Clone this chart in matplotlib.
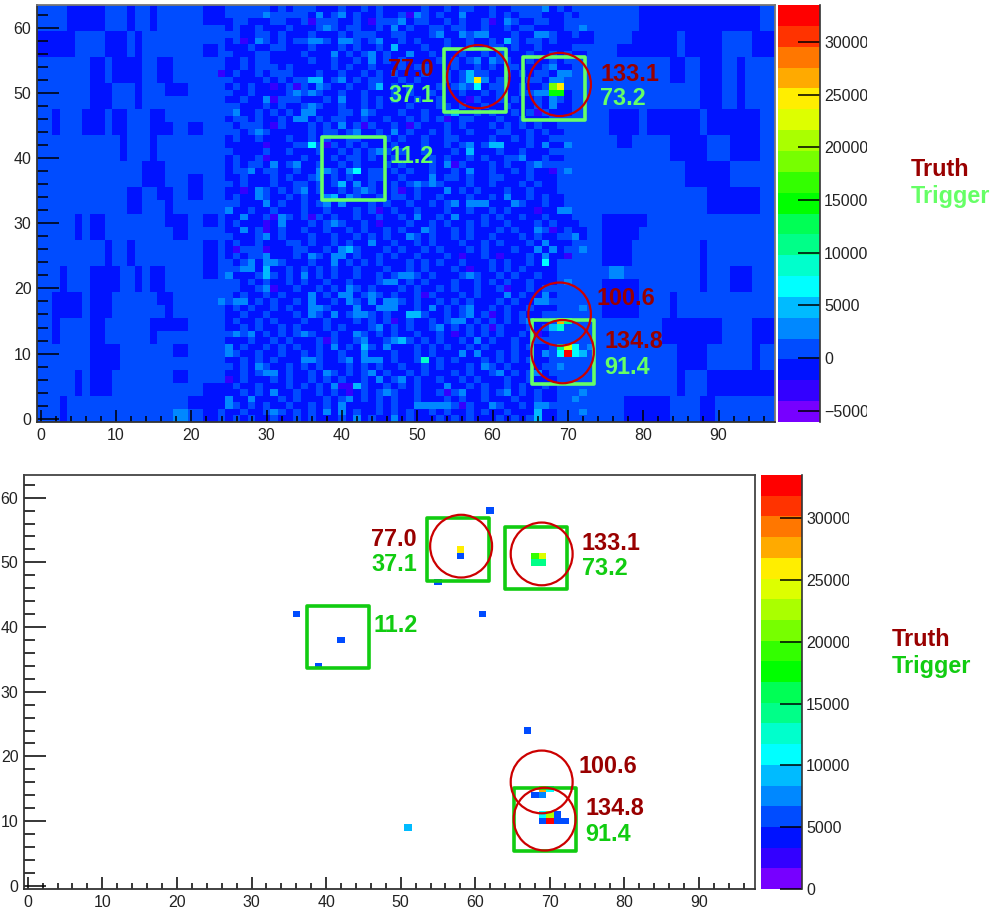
import numpy as np
import matplotlib
matplotlib.use("Agg")
import matplotlib.pyplot as plt
from matplotlib.colors import ListedColormap, BoundaryNorm
from matplotlib.patches import Ellipse, Rectangle

plt.rcParams['font.family'] = ['Liberation Sans', 'DejaVu Sans']

# histogram cells, top row of the picture first, '#' is slightly below zero, '.' slightly above
left_rows = [
    "....#####...#..#......###", "....#####...#..#......###", "....#####...#..#......###", "....#####...#..#.........",
    "#####....###.#...........", "#####....###.#...........", "#####....###.#........##.", "#####....###.#........##.",
    ".......##.####..##.......", ".......##.####..##.......", ".......##.####..##.......", ".......##.####..##.......",
    ".......###...#...###.....", ".......###...#...###.....", ".......###...#...........", ".......###...#...........",
    "..#...###.##...##........", "..#...###.##...##........", "..#...###.##...###..##...", "..#...###.##...###..##...",
    "...........#...#.........", "...........#...#.........", "...........#...#.........", "...........#...#.........",
    "..............###........", "..............###........", "..............###...##...", "..............###...##...",
    "............##..##..##...", "............##..##..##...", "............##...#.......", "............##...#.......",
    ".....#.##........###..##.", ".....#.##........###..##.", ".....#.##.........##.....", ".....#.##.........##.....",
    ".........#..#.........##.", ".........#..#.........##.", ".........#..#.........##.", ".........#..#.........##.",
    "...#...####..#.##.....##.", "...#...####..#.##.....##.", "...#...####..#.##........", "...#...####..#.##........",
    "..####.###......##.......", "..####.###......##.......", "..####.###.......#.......", "..####.###.......#.......",
    "..#....##......#####.....", "..#....##......#####.....", "..#....##......#.........", "..#....##......#.........",
    ".......####.......##.....", ".......####.......##.....", ".......####..............", ".......####..............",
    ".....#.###........##.....", ".....#.###........##.....", ".....#.###............###", ".....#.###............###",
    "...#................#####", "...#................#####", "...#..................##.", "...#..................##.",
]
mid_rows = [
    "......#.#...###.##.#.#####.##.#..##.##....##.#....",
    "...........###.##.##.##.#..#.##.###.#.#...###.#...",
    "#..###..##.....##.##...##..##.#.##..#..##..##.....",
    "#.##.###.###.#.#..##.###.##..#..##.##.#..####.....",
    "..##..#.###.###.#...##..###.####...###.##...##.##.",
    "#..#..#.#..##.#.#.#..##.#.###.##.##.##.#..#.#####.",
    "###.##..###.###.#.##.#.###.##.##.##..#.##.####....",
    ".###..####.###.#.#..#.##.##.###.##.#.###.##.#.##..",
    "##.#..#####.##.##.###.#.####.#.#..##..##.##.#.....",
    "##.#...#.#####.#.##.###.#..###.##.#.#..###.###....",
    "#.##.#...###.##.##.#.#.###.##.#.#..##.#.#..##.....",
    ".####.#.#..###.##.#..##.#.###.#...##.###..###.....",
    "#.#.##.#.#.##.##.##.##.#.###.#.#.##..##.##.##.....",
    ".##.####.#.#.##.##.###.#.##.###.##.#.##..#.###....",
    "##.##.#...###.####.#.#.##.##.###..##.#.##.##.#....",
    "..###.#.##.#.##.##.#.###.###..#.##.##.###.####....",
    "..##.#.#.##.###..##.###.##.##.###.#.##.#.#.###....",
    "#..#.##.#.##.#..##.##.##.#.#.##..###.##.###.......",
    ".#...##.###.#.###.#.##.##.###.#.###.#.#.#.##......",
    "..#.#.#####.#..#.###.###.##.#.##.###..##.#.##.....",
    "#.##.###.##.#.##..###.#.##.##..####.##.#.##.......",
    "#####.###..#.#.#.#.###.###.##.#.##.#.###.#.##.....",
    ".####.##.###.##.#.#.#.#.##.###.#.###.##.###.......",
    "#.##.#####.###.#..#.##.####.#.##.#.##..###.##.....",
    "#.#..###.###.##.#.###.#.###.#.#.###.#.##.#........",
    "#..##..##.####.#.##..#.#.##.##.#.##.##.#.##.......",
    "##.###.#.##.##.#.##..##.###.#..#.##..###.###......",
    ".#.###.##..#.#.##.#.##.#.#.#.###.##.###.#.##......",
    "##.#..#.#.##.##.#.#.##.##.###.#.#.###.##.###......",
    "#.###.##.#.###.##.##.#..#.##.###.##.#.##.#.##.....",
    "..#####.##.#.##.###.#.##.##.#.##.#.####.##.##.....",
    ".##.##.###.##.###.#.##.##.###.##.##.#.###.##......",
    "##.##.##.#.#.#.##.##.##.#.##.#.###.#.##.##.###....",
    "#.###.#.###.#.#.##.#.###.##.#.##.#.##.###.#.###...",
    "##.#.##.##.##.##.#.##.#.###.##.#.###.#.###.##.##..",
    ".###..#.###.##.##.#.#.###.#.##.#.##.###.#.##..##..",
    "#.##.###..#.##.#.##.##.##.#.###.##.#.###.#.###....",
    "##...####..##.#.#.###.#.##.#.###.#.###.##.###.....",
    "#.#...###.##.#.##.##.#.##.###.#.##.#.###.####.....",
    ".#.##.#.###.##.#.#.#.###.#.#.##.###.#.##.###......",
    "...##.##.#.#.#.##.###.##.#.###.#.##.#.#.####......",
    "####...#.###.#.##.##.#.##.#.###.#.##.#.##.##......",
    "..#.#.##.#.##.##.###..##.#.###.##.#.#.##.###......",
    "..##.#.##.##.#.##.#.###.#.##.#.##.##.###.#........",
    ".#.##.#.###.#.##.#.#.#.##.#.###.#.###.#.####......",
    ".###.#.##.#.##.##.#.###.#.##.#.#.###.#.####.......",
    "#.#.##.#.##.#.###.##.#.##.###.#.###.#.##.###......",
    "##.##.###.##.#.#.##.#.##.#.##.#.##.##.#.##........",
    "#.##.#.###.##.###.#.#.##.##.#.###.#.#.#.###.......",
    "##.#.##.#.###.#.###.##.#.##.##.#.#.#.###.#........",
    ".#.##.#.#.#.##.###.#.#.##.##.###.#.#.##.###.......",
    "###.##.#.###.#.##.###.##.#.#.##.#.#.##.##.........",
    ".#.##.#.#.##.#.#.##.#.###.#.#.##.#.###.#.##.......",
    "..##.##.##.#.##.##.###.##.#.###.#.##.#.###........",
    "##.#.#.###.#.##.##.#.#.##.##.#.###.#.#.#.##.......",
    ".#.##.##.#.#.###.#.#.##.##.#.###.##.#.####........",
    "##.#.#.#.##.##.#.#.##.##.#.###.#.##.##.#.##.......",
    ".#.###.#.##.#.#.##.#.#.##.##.##.#.###.##.###......",
    "#.##.###.#.#.##.##.##.#.#.###.##.#.##.#.##.#......",
    "##.#.#.##.##.#.###.#.#.##.##.#.###.#.##.#.##......",
    ".##.###.#.###.#.##.#.#.##.###.#.##.###.##.##......",
    "#.#.#.##.##.#.#.####.#.##.##.#.#.###.##.###.......",
    "##.##.#.#.#.###.#.##.#.#.##.#.##.#.##.###.##......",
    "#.#.##.##.#.###.#.#.##.#.###.#.#.###.#.#.###......",
]
right_rows = [
    ".....################..", ".....################..", ".....################..", ".....################..",
    "....######.#####....###", "....######.#####....###", "..########.#####....###", "..########.#####....###",
    ".........##..###..#....", ".........##..###..#....", ".........##..###..#....", ".........##..###..#....",
    ".............###..#....", ".............###..#....", ".............###..#....", ".............###..#....",
    ".####.#######.#######..", ".####.#######.#######..", ".####.#######.#######..", ".####.#######.#######..",
    "..##.....#####...####..", "..##.....#####...####..", ".........#####...####..", ".........#####...####..",
    "...........######......", "...........######......", "...........######......", "...........######......",
    "..............#######..", "..............#######..", "..............#######..", "..............#######..",
    "######.................", "######.................", "#####..................", "#####..................",
    "####.........#.........", "####.........#.........", "####.........#.........", "####.........#.........",
    ".............#...###...", ".............#...###...", "#####........#...###...", "#####........#...###...",
    "#####....#.............", "#####....#.............", "#####....#.............", "#####....#.............",
    "........########....###", "........########....###", "........########....###", "........########....###",
    "..........####......#..", "..........####......#..", "..........####......#..", "..........####......#..",
    "..........#...#########", "..........#...#########", "..........#...#########", "..........#...#########",
    "...######....##........", "...######....##........", "...######....##........", "...######....##........",
]

above_zero = 850
below_zero = -1100

# cells away from the two background levels, (column, row)
purple_cells = [(36, 61), (44, 61), (27, 58), (24, 53), (31, 51), (34, 51), (31, 49), (31, 45), (43, 45),
                (30, 42), (38, 42), (30, 40), (27, 35), (45, 32), (31, 31), (36, 31), (30, 30), (45, 30),
                (49, 62), (60, 61), (57, 49), (66, 47), (54, 46), (49, 45), (55, 39), (68, 38), (48, 35),
                (66, 32), (30, 29), (68, 29), (26, 26), (30, 26), (56, 25), (61, 25), (70, 25), (57, 23),
                (31, 20), (62, 20), (51, 19), (60, 16), (47, 15), (60, 14), (55, 13), (66, 13), (38, 12),
                (25, 6), (40, 5), (41, 5), (41, 4), (54, 4), (56, 2)]
mid_cells = [(30, 62), (37, 62), (40, 62), (50, 62), (56, 62), (67, 63), (48, 61), (62, 61), (38, 60), (47, 60),
             (72, 60), (29, 58), (36, 58), (37, 58), (40, 58), (41, 58), (45, 58), (53, 59), (56, 59), (58, 59),
             (59, 59), (66, 59), (67, 59), (39, 56), (49, 56), (44, 55), (44, 56), (58, 55), (60, 55), (68, 54),
             (69, 53), (70, 53), (57, 53), (40, 52), (59, 52), (68, 52), (69, 52), (37, 51), (56, 51), (34, 50),
             (36, 50), (66, 50), (67, 50), (30, 49), (40, 49), (68, 49), (36, 48), (68, 48), (26, 47), (35, 47),
             (36, 47), (43, 47), (34, 46), (35, 46), (40, 45), (29, 44), (42, 44), (47, 44), (57, 42), (67, 42),
             (70, 42), (45, 41), (64, 40), (31, 39), (34, 39), (54, 39), (66, 39), (28, 38), (37, 38), (38, 38),
             (41, 38), (57, 38), (70, 38), (37, 37), (52, 37), (42, 36), (50, 36), (52, 36), (29, 35), (35, 35),
             (43, 35), (54, 35), (29, 34), (38, 34), (41, 34), (62, 34), (30, 33), (38, 33), (40, 33), (55, 33),
             (57, 33), (58, 33), (59, 33), (63, 33), (25, 32), (69, 32), (70, 32), (27, 31), (32, 31), (50, 31),
             (55, 31), (32, 30), (39, 30), (27, 29), (51, 29), (66, 29), (30, 28), (49, 28), (71, 28), (44, 27),
             (67, 27), (40, 26), (66, 26), (68, 26), (72, 26), (36, 25), (39, 25), (40, 25), (30, 25), (67, 25),
             (28, 24), (30, 24), (31, 24), (39, 24), (27, 23), (28, 23), (25, 22), (35, 22), (48, 22), (49, 22),
             (57, 22), (76, 23), (77, 23), (76, 22), (77, 22), (46, 21), (47, 21), (70, 21), (30, 20), (41, 20),
             (36, 19), (40, 19), (41, 19), (44, 19), (62, 19), (67, 19), (24, 18), (26, 18), (27, 18), (36, 18),
             (41, 18), (44, 18), (46, 18), (47, 18), (66, 18), (67, 18), (36, 17), (37, 17), (42, 17), (45, 17),
             (46, 17), (47, 17), (52, 17), (57, 17), (72, 17), (36, 16), (39, 16), (42, 16), (43, 16), (57, 16),
             (55, 15), (56, 15), (65, 15), (45, 14), (53, 14), (26, 13), (28, 13), (35, 13), (42, 13), (43, 12),
             (47, 12), (58, 12), (25, 11), (39, 11), (46, 11), (73, 11), (25, 10), (43, 10), (56, 10), (58, 10),
             (67, 10), (35, 9), (36, 9), (41, 9), (43, 9), (44, 9), (45, 9), (29, 8), (59, 8), (69, 8), (30, 7),
             (31, 7), (38, 7), (44, 7), (61, 7), (66, 7), (45, 6), (48, 6), (39, 5), (54, 5), (31, 4), (46, 4),
             (56, 4), (62, 4), (72, 4), (28, 3), (41, 3), (71, 3), (25, 3), (25, 2), (40, 2), (50, 2), (51, 2),
             (52, 2), (53, 2), (54, 2), (60, 2), (66, 2), (67, 2), (18, 1), (19, 1), (18, 0), (19, 0), (31, 1),
             (38, 1), (40, 1), (72, 1), (42, 0), (47, 0)]
light_cells = [(47, 57), (45, 51), (36, 52), (37, 52), (40, 36), (60, 42), (57, 41), (57, 52), (57, 53),
               (41, 26), (30, 23), (30, 22), (49, 16), (50, 16), (43, 11), (42, 5), (48, 12),
               (66, 1), (66, 0)]

# the hot cells, these are also the ones that survive in the lower panel
hot_cols = [58, 58, 68, 69, 68, 69, 36, 42, 39, 62, 61, 55, 67, 51, 69, 70, 68, 69, 69, 70, 70, 69, 71, 71, 72]
hot_rows = [52, 51, 51, 51, 50, 50, 42, 38, 34, 58, 42, 47, 24, 9, 15, 15, 14, 14, 11, 11, 10, 10, 11, 10, 10]
hot_vals = [25300, 6200, 19000, 24500, 14500, 14500, 6000, 6000, 5300, 5400, 5300, 5200, 6000, 9000,
            27000, 10500, 5500, 8000, 11000, 22500, 32500, 6200, 6200, 6200, 5300]

# level colours of the palette, low to high
level_colors = ['#7700ff', '#3300ff', '#0012ff', '#004cff', '#0088ff', '#00bbff', '#00ffff', '#00ffcc', '#00ff88', '#00ff55',
                '#00ff00', '#33ff00', '#77ff00', '#aaff00', '#ddff00', '#ffee00', '#ffaa00', '#ff7700', '#ff3300', '#ff0000']

# objects in histogram coordinates
truth_x = [58.1, 68.9, 68.9, 69.3]
truth_y = [52.5, 51.3, 16.05, 10.3]
trigger_x0 = [53.5, 64.0, 37.4, 65.2]
trigger_x1 = [61.8, 72.3, 45.7, 73.5]
trigger_y0 = [47.05, 45.8, 33.6, 5.4]
trigger_y1 = [56.8, 55.5, 43.3, 15.1]
truth_labels = ["77.0", "133.1", "100.6", "134.8"]
truth_label_x = [52.2, 74.3, 73.8, 74.8]
truth_label_y = [53.6, 52.9, 18.4, 11.9]
truth_label_ha = ['right', 'left', 'left', 'left']
trigger_labels = ["37.1", "73.2", "11.2", "91.4"]
trigger_label_x = [52.2, 74.3, 46.3, 74.8]
trigger_label_y = [49.6, 49.1, 40.2, 7.9]
trigger_label_ha = ['right', 'left', 'left', 'left']

top_vmin, top_vmax = -6080, 33500
low_vmin, low_vmax = 0, 33500
top_cbar_ticks = [-5000, 0, 5000, 10000, 15000, 20000, 25000, 30000]
low_cbar_ticks = [0, 5000, 10000, 15000, 20000, 25000, 30000]

nx, ny = 98, 64
grid = np.zeros((ny, nx))
for i in range(ny):
    line = left_rows[i] + (mid_rows[i] + "." * 50)[:50] + right_rows[i]
    r = ny - 1 - i
    for c, ch in enumerate(line):
        grid[r, c] = below_zero if ch == '#' else above_zero
for c, r in purple_cells:
    grid[r, c] = -3100
for c, r in mid_cells:
    grid[r, c] = 2800
for c, r in light_cells:
    grid[r, c] = 4500
for c, r, v in zip(hot_cols, hot_rows, hot_vals):
    grid[r, c] = v

W, H = 996, 909
fig = plt.figure(figsize=(W / 100, H / 100), dpi=100)


def axes_px(x0, y0, x1, y1):
    return fig.add_axes([x0 / W, 1 - y1 / H, (x1 - x0) / W, (y1 - y0) / H])


def draw_panel(box, cbox, data, vmin, vmax, cticks, trig_col, frame, legend_xy):
    cmap = ListedColormap(level_colors)
    edges = np.linspace(vmin, vmax, 21)
    norm = BoundaryNorm(edges, 20)
    cmap.set_bad('white')

    ax = axes_px(*box)
    xe = np.arange(nx + 1) - 0.5
    ye = np.arange(ny + 1) - 0.5
    ax.pcolormesh(xe, ye, data, cmap=cmap, norm=norm, linewidth=0)
    for i in range(4):
        ax.add_patch(Rectangle((trigger_x0[i], trigger_y0[i]), trigger_x1[i] - trigger_x0[i], trigger_y1[i] - trigger_y0[i],
                               fill=False, ec=trig_col, lw=2.6, zorder=3, joinstyle='round'))
        ax.add_patch(Ellipse((truth_x[i], truth_y[i]), 8.3, 9.7, fill=False, ec='#cc0000', lw=1.6, zorder=4))
        ax.text(truth_label_x[i], truth_label_y[i], truth_labels[i], color='#990000', fontsize=16.8, fontweight='bold',
                ha=truth_label_ha[i], va='center', zorder=5)
        ax.text(trigger_label_x[i], trigger_label_y[i], trigger_labels[i], color=trig_col, fontsize=16.8, fontweight='bold',
                ha=trigger_label_ha[i], va='center', zorder=5)
    ax.set_xlim(-0.5, 97.5)
    ax.set_ylim(-0.5, 63.5)
    ax.set_xticks(np.arange(0, 91, 10))
    ax.set_xticks(np.arange(0, 98, 2), minor=True)
    ax.set_yticks(np.arange(0, 61, 10))
    ax.set_yticks(np.arange(0, 64, 2), minor=True)
    ax.tick_params(axis='x', which='major', direction='in', length=8.6, width=1.1, labelsize=11.5, pad=4, labelcolor='#222222')
    ax.tick_params(axis='x', which='minor', direction='in', length=4.3, width=1.1)
    ax.tick_params(axis='y', which='major', direction='in', length=15.8, width=1.1, labelsize=11.5, pad=4, labelcolor='#222222')
    ax.tick_params(axis='y', which='minor', direction='in', length=7.9, width=1.1)
    for name, sp in ax.spines.items():
        sp.set_linewidth(1.3)
        sp.set_color('#333333' if name in ('left', 'bottom') else frame)

    cax = axes_px(*cbox)
    centers = (edges[:-1] + edges[1:]) / 2
    cax.pcolormesh([0, 1], edges, centers[:, None], cmap=cmap, norm=norm)
    cax.set_ylim(vmin, vmax)
    cax.set_xticks([])
    cax.yaxis.tick_right()
    cax.set_yticks(cticks)
    cax.tick_params(axis='y', direction='in', length=15.8, width=1.1, labelsize=11.5, pad=3, labelcolor='#222222')
    for name, sp in cax.spines.items():
        sp.set_visible(name == 'right')
    cax.spines['right'].set_color('#333333')
    cax.spines['right'].set_linewidth(1.2)

    # the tick labels of the palette are cut off in the original
    fig.add_artist(Rectangle(((cbox[2] + 47) / W, 1 - cbox[3] / H - 0.01), 20 / W, (cbox[3] - cbox[1]) / H + 0.02,
                             transform=fig.transFigure, fc='white', ec='none', zorder=5))

    fig.text(legend_xy[0] / W, 1 - legend_xy[1] / H, "Truth", color='#990000', fontsize=16.8, fontweight='bold', va='center', zorder=6)
    fig.text(legend_xy[0] / W, 1 - (legend_xy[1] + 27) / H, "Trigger", color=trig_col, fontsize=16.8, fontweight='bold', va='center', zorder=6)


draw_panel((37, 5, 775, 422), (778, 5, 820, 422), grid, top_vmin, top_vmax, top_cbar_ticks, '#66ff66', '#777777', (911, 170))

low_grid = np.ma.masked_less(grid, 5000)
draw_panel((24, 475, 755, 889), (761, 475, 802, 889), low_grid, low_vmin, low_vmax, low_cbar_ticks, '#11cc11', '#444444', (892, 639))

fig.savefig("out.png", dpi=100)
